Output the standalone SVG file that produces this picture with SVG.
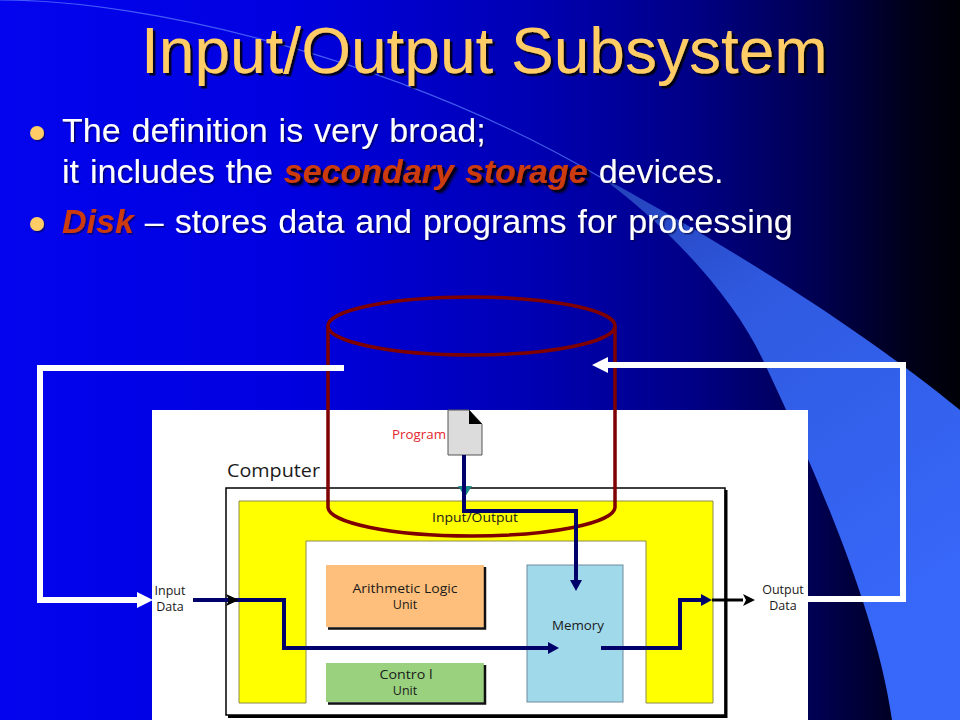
<svg xmlns="http://www.w3.org/2000/svg" width="960" height="720" viewBox="0 0 960 720">
<defs>
<linearGradient id="bg" x1="0" y1="0" x2="960" y2="0" gradientUnits="userSpaceOnUse">
<stop offset="0" stop-color="#0404EE"/>
<stop offset="0.3" stop-color="#0000E0"/>
<stop offset="0.55" stop-color="#0000B4"/>
<stop offset="0.72" stop-color="#000086"/>
<stop offset="0.85" stop-color="#000052"/>
<stop offset="0.95" stop-color="#000018"/>
<stop offset="1" stop-color="#000006"/>
</linearGradient>
<linearGradient id="band" x1="600" y1="175" x2="900" y2="620" gradientUnits="userSpaceOnUse">
<stop offset="0" stop-color="#2440B8"/>
<stop offset="0.35" stop-color="#2F5AE0"/>
<stop offset="1" stop-color="#3868FA"/>
</linearGradient>
<filter id="sh" x="-5%" y="-30%" width="110%" height="160%">
<feDropShadow dx="2.5" dy="2.5" stdDeviation="0.6" flood-color="#000" flood-opacity="0.85"/>
</filter>
<filter id="shw" x="-5%" y="-30%" width="110%" height="160%">
<feDropShadow dx="1.5" dy="1.5" stdDeviation="0.6" flood-color="#000030" flood-opacity="0.6"/>
</filter>
<marker id="aw" viewBox="0 0 16 16" refX="0" refY="8" markerWidth="16" markerHeight="16" markerUnits="userSpaceOnUse" orient="auto">
<path d="M0,0 L16,8 L0,16 Z" fill="#fff"/>
</marker>
<marker id="an" viewBox="0 0 11 12" refX="0" refY="6" markerWidth="11" markerHeight="12" markerUnits="userSpaceOnUse" orient="auto">
<path d="M0,0 L11,6 L0,12 Z" fill="#00006B"/>
</marker>
<marker id="ab" viewBox="0 0 12 12" refX="0" refY="6" markerWidth="12" markerHeight="12" markerUnits="userSpaceOnUse" orient="auto">
<path d="M0,0 L12,6 L0,12 L3,6 Z" fill="#000"/>
</marker>
<style>
.title{font-family:"Liberation Sans",Arial,sans-serif;font-size:64px;fill:#FFCC66}
.body{font-family:"Liberation Sans",Arial,sans-serif;font-size:34px;fill:#fff;word-spacing:1.5px}
.em{font-weight:bold;font-style:italic;fill:#CC3A0A}
.lbl{font-family:"Open Sans","Noto Sans",sans-serif;font-size:12.5px;fill:#1a1a1a}
.navy{fill:none;stroke:#00006B;stroke-width:4;stroke-linejoin:miter}
.white{fill:none;stroke:#fff;stroke-width:6;stroke-linejoin:miter}
.shadow{fill:none;stroke:#111;stroke-width:2.5}
</style>
</defs>

<g id="background">
<rect x="0" y="0" width="960" height="720" fill="url(#bg)"/>
<path d="M598,175 C660,220 730,290 763,360 C805,450 875,600 892,720 L960,720 L960,410 C850,320 700,230 598,175 Z" fill="url(#band)"/>
<path d="M0,0 C150,0 400,60 600,177" fill="none" stroke="#6080FF" stroke-opacity="0.7" stroke-width="1.2"/>
</g>

<g id="title">
<text class="title" x="141" y="73" filter="url(#sh)">Input/Output Subsystem</text>
</g>

<g id="bullets">
<circle cx="37" cy="133" r="7" fill="#FFCC66" filter="url(#shw)"/>
<circle cx="37" cy="224" r="7" fill="#FFCC66" filter="url(#shw)"/>
<text class="body" x="62" y="142" filter="url(#shw)">The definition is very broad;</text>
<text class="body" x="62" y="183" filter="url(#shw)">it includes the <tspan class="em" filter="url(#sh)">secondary storage</tspan> devices.</text>
<text class="body" x="62" y="233" filter="url(#shw)"><tspan class="em">Disk</tspan> – stores data and programs for processing</text>
</g>

<g id="panel">
<rect x="152" y="410" width="656" height="310" fill="#fff"/>
</g>

<g id="computer">
<rect x="226" y="488" width="499" height="227" fill="#fff" stroke="#000" stroke-width="1.5"/>
<path d="M726,490 V716.5 H228" fill="none" stroke="#000" stroke-width="3"/>
<text class="lbl" x="227" y="477" style="font-size:19px" textLength="93" lengthAdjust="spacingAndGlyphs">Computer</text>
</g>

<g id="io-unit">
<path d="M239,703 V501 H713 V703 H646 V541 H306 V703 Z" fill="#FFFF00" stroke="#8C8C4C" stroke-width="1"/>
<text class="lbl" x="475" y="522" text-anchor="middle" textLength="86" lengthAdjust="spacingAndGlyphs">Input/Output</text>
</g>

<g id="alu">
<rect x="326" y="565" width="158" height="62" fill="#FDBF7B"/>
<path d="M485,567 V628.5 H328" class="shadow"/>
<text class="lbl" x="405" y="593" text-anchor="middle" textLength="105" lengthAdjust="spacingAndGlyphs">Arithmetic Logic</text>
<text class="lbl" x="405" y="609" text-anchor="middle">Unit</text>
</g>

<g id="control">
<rect x="326" y="663" width="158" height="39" fill="#99D17F"/>
<path d="M485,665 V703.5 H328" class="shadow"/>
<text class="lbl" x="406" y="679" text-anchor="middle" textLength="53" lengthAdjust="spacingAndGlyphs">Contro l</text>
<text class="lbl" x="405" y="695" text-anchor="middle">Unit</text>
</g>

<g id="memory">
<rect x="527" y="565" width="96" height="137" fill="#A0D9EA" stroke="#6E8C9C" stroke-width="1"/>
<text class="lbl" x="578" y="630" text-anchor="middle" textLength="52" lengthAdjust="spacingAndGlyphs">Memory</text>
</g>

<g id="program">
<path d="M448,410 H469 L482,424 V455 H448 Z" fill="#DCDCDC" stroke="#555" stroke-width="1"/>
<path d="M469,410 V424 H482 Z" fill="#000"/>
<text class="lbl" x="392" y="439" style="fill:#E3262E;font-size:13.5px" textLength="54" lengthAdjust="spacingAndGlyphs">Program</text>
</g>

<g id="io-labels">
<text class="lbl" x="170" y="595" text-anchor="middle">Input</text>
<text class="lbl" x="170" y="611" text-anchor="middle">Data</text>
<text class="lbl" x="783" y="594" text-anchor="middle">Output</text>
<text class="lbl" x="783" y="610" text-anchor="middle">Data</text>
</g>

<g id="disk" fill="none" stroke="#7E0000" stroke-width="3.5">
<ellipse cx="471.5" cy="326" rx="143.5" ry="29"/>
<path d="M328,326 V507 A143.5,29 0 0 0 615,507 V326"/>
</g>

<g id="connectors">
<path class="white" d="M344,368 H40 V600 H137" marker-end="url(#aw)"/>
<path class="white" d="M808,599 H903 V365 H608" marker-end="url(#aw)"/>
<path d="M458,486 H472 L465,497 Z" fill="#1E8A8A"/>
<path class="navy" d="M464,455 V511 H576 V580" marker-end="url(#an)"/>
<path class="navy" d="M193,600 H284 V648 H548" marker-end="url(#an)"/>
<path d="M226,594 L239,600 L226,606 L229,600 Z" fill="#000"/>
<path class="navy" d="M601,648 H680 V600 H701" marker-end="url(#an)"/>
<path d="M712,600 H743" fill="none" stroke="#000" stroke-width="3" marker-end="url(#ab)"/>
</g>
</svg>
